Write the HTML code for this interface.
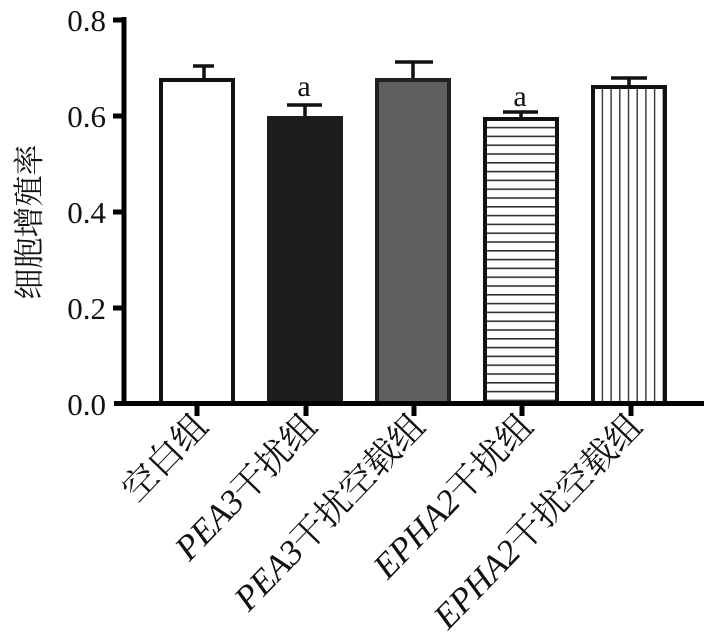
<!DOCTYPE html>
<html><head><meta charset="utf-8"><style>
html,body{margin:0;padding:0;background:#fff;width:718px;height:634px;overflow:hidden}
text{font-family:"Liberation Serif","Noto Serif CJK SC",serif;fill:#111}
</style></head><body>
<svg width="718" height="634" viewBox="0 0 718 634" xmlns="http://www.w3.org/2000/svg">
<defs>
<pattern id="h" width="10" height="8.8" patternUnits="userSpaceOnUse" y="118">
<rect width="10" height="8.8" fill="#fff"/><rect y="0" width="10" height="1.6" fill="#333"/></pattern>
<pattern id="v" width="8.7" height="10" patternUnits="userSpaceOnUse" x="593">
<rect width="8.7" height="10" fill="#fff"/><rect x="0" width="1.4" height="10" fill="#333"/></pattern>
</defs>
<g stroke="#111" stroke-width="3.5">
<line x1="204" y1="66" x2="204" y2="80"/><line x1="193" y1="66" x2="214" y2="66"/>
<line x1="305" y1="105" x2="305" y2="118"/><line x1="287" y1="105" x2="322" y2="105"/>
<line x1="413" y1="62" x2="413" y2="80"/><line x1="395" y1="62" x2="433" y2="62"/>
<line x1="521" y1="112" x2="521" y2="119"/><line x1="503" y1="112" x2="538" y2="112"/>
<line x1="629" y1="78" x2="629" y2="87"/><line x1="611" y1="78" x2="647" y2="78"/>
</g>
<rect x="161" y="80" width="72" height="323" fill="#fff" stroke="#111" stroke-width="4"/>
<rect x="267" y="116" width="76" height="287" fill="#1c1c1c"/>
<rect x="377" y="80" width="72" height="323" fill="#5f5f5f" stroke="#222" stroke-width="4"/>
<rect x="485" y="119" width="72" height="284" fill="url(#h)" stroke="#111" stroke-width="4"/>
<rect x="593" y="87" width="72" height="316" fill="url(#v)" stroke="#111" stroke-width="4"/>
<text x="304" y="96" font-size="30" text-anchor="middle">a</text>
<text x="520" y="106" font-size="30" text-anchor="middle">a</text>
<g stroke="#000" stroke-width="5">
<line x1="124" y1="17" x2="124" y2="406"/>
<line x1="114" y1="403.5" x2="704" y2="403.5"/>
<line x1="113" y1="20" x2="124" y2="20"/>
<line x1="113" y1="116" x2="124" y2="116"/>
<line x1="113" y1="212" x2="124" y2="212"/>
<line x1="113" y1="308" x2="124" y2="308"/>
<line x1="197" y1="404" x2="197" y2="416"/>
<line x1="306" y1="404" x2="306" y2="416"/>
<line x1="414" y1="404" x2="414" y2="416"/>
<line x1="522" y1="404" x2="522" y2="416"/>
<line x1="631" y1="404" x2="631" y2="416"/>
</g>
<g font-size="31" text-anchor="end">
<text x="106" y="31">0.8</text>
<text x="106" y="127">0.6</text>
<text x="106" y="223">0.4</text>
<text x="106" y="319">0.2</text>
<text x="106" y="415">0.0</text>
</g>
<text transform="translate(40,222) rotate(-90)" font-size="31" text-anchor="middle">细胞增殖率</text>
<g font-size="35" text-anchor="end">
<text transform="translate(210,428) rotate(-46)">空白组</text>
<text transform="translate(319,428) rotate(-46)"><tspan font-style="italic">PEA3</tspan>干扰组</text>
<text transform="translate(427,428) rotate(-46)"><tspan font-style="italic">PEA3</tspan>干扰空载组</text>
<text transform="translate(535,428) rotate(-46)"><tspan font-style="italic">EPHA2</tspan>干扰组</text>
<text transform="translate(644,428) rotate(-46)"><tspan font-style="italic">EPHA2</tspan>干扰空载组</text>
</g>
</svg>
</body></html>
